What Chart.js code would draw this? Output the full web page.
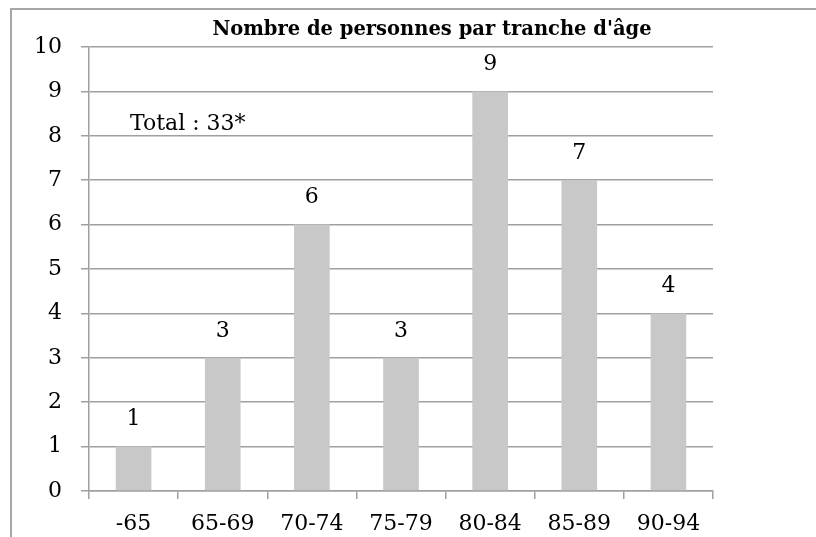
<!DOCTYPE html>
<html>
<head>
<meta charset="utf-8">
<script src="https://cdn.jsdelivr.net/npm/chart.js@4"></script>
<style>
  html, body { margin: 0; padding: 0; background: #fff; overflow: hidden; }
  #cadre {
    position: absolute; left: 10px; top: 8px; width: 820px; height: 540px;
    border-top: 2px solid #a6a6a6; border-left: 2px solid #a6a6a6;
  }
  #zone { position: absolute; left: 0; top: 0; width: 816px; height: 537px; }
</style>
</head>
<body>
<div id="cadre"></div>
<div id="zone"><canvas id="chart1"></canvas></div>
<script>
// Données du graphique
const tranches = ['-65', '65-69', '70-74', '75-79', '80-84', '85-89', '90-94']
const personnes = [1, 3, 6, 3, 9, 7, 4]
const graduations = [0, 1, 2, 3, 4, 5, 6, 7, 8, 9, 10]
const titre = "Nombre de personnes par tranche d'âge"
const note = 'Total : 33*'

const police = '"DejaVu Serif", "Liberation Serif", serif'
const gris = '#a0a0a0'

// Titre, note et valeurs au-dessus des barres
const textes = {
  id: 'textes',
  afterDatasetsDraw(chart) {
    const ctx = chart.ctx
    const area = chart.chartArea
    ctx.save()
    ctx.fillStyle = '#000'
    ctx.textBaseline = 'middle'

    ctx.textAlign = 'center'
    ctx.font = 'bold 19.5px ' + police
    ctx.fillText(titre, 432, 30)

    ctx.textAlign = 'left'
    ctx.font = '22px ' + police
    ctx.fillText(note, area.left + 41, chart.scales.y.getPixelForValue(8.25))

    ctx.textAlign = 'center'
    ctx.font = '22px ' + police
    chart.getDatasetMeta(0).data.forEach((bar, i) => {
      ctx.fillText(String(personnes[i]), bar.x, bar.y - 27)
    })
    ctx.restore()
  },
}

const ctx = document.getElementById('chart1').getContext('2d')
new Chart(ctx, {
  type: 'bar',
  data: {
    labels: tranches,
    datasets: [
      {
        data: personnes,
        backgroundColor: '#c8c8c8',
        borderWidth: 0,
        barPercentage: 0.4,
        categoryPercentage: 1,
      },
    ],
  },
  options: {
    responsive: true,
    maintainAspectRatio: false,
    animation: false,
    layout: { padding: { left: 0, right: 103, top: 47, bottom: 0 } },
    plugins: {
      legend: { display: false },
      tooltip: { enabled: false },
      title: { display: false },
    },
    scales: {
      x: {
        offset: true,
        grid: {
          offset: true,
          drawOnChartArea: false,
          drawTicks: true,
          tickLength: 8,
          color: gris,
          lineWidth: 1.5,
        },
        border: { color: gris, width: 1.5 },
        ticks: {
          color: '#000',
          padding: 12,
          font: { family: police, size: 22 },
          maxRotation: 0,
        },
        afterFit(scale) { scale.height = 46 },
      },
      y: {
        min: 0,
        max: 10,
        afterBuildTicks(scale) {
          scale.ticks = graduations.map((v) => ({ value: v }))
        },
        grid: {
          color: gris,
          lineWidth: 1.5,
          tickLength: 8,
        },
        border: { color: gris, width: 1.5 },
        ticks: {
          color: '#000',
          padding: 19,
          font: { family: police, size: 22 },
        },
        afterFit(scale) { scale.width = 89 },
      },
    },
  },
  plugins: [textes],
})
</script>
</body>
</html>
